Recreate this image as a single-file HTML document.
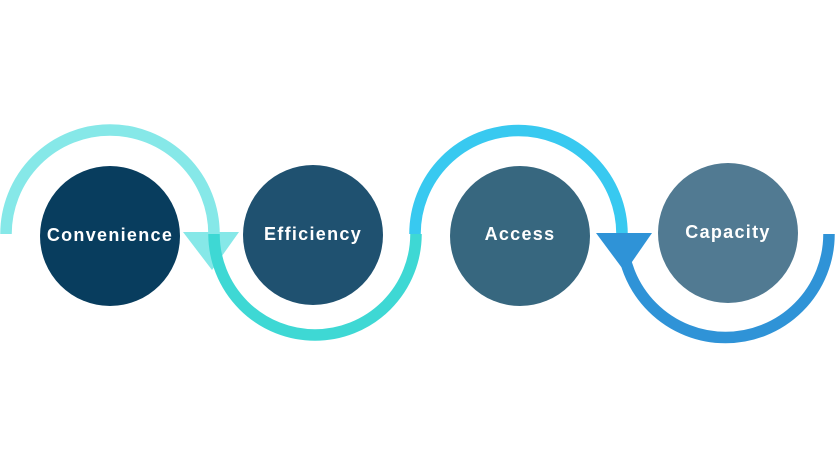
<!DOCTYPE html>
<html><head><style>
html,body{margin:0;padding:0;background:#fff;width:836px;height:466px;overflow:hidden}
svg{display:block}
text{font-family:"Liberation Sans",sans-serif;font-weight:bold;font-size:18px;fill:#fff;letter-spacing:1.3px}
</style></head><body>
<svg width="836" height="466" viewBox="0 0 836 466">
<circle cx="110" cy="236" r="70" fill="#083d5e"/>
<circle cx="313" cy="235" r="70" fill="#1f5170"/>
<circle cx="520" cy="236" r="70" fill="#37677f"/>
<circle cx="728" cy="233" r="70" fill="#517a92"/>
<path d="M6 234 A104 104 0 0 1 214 234" fill="none" stroke="#86e8e8" stroke-width="11.5"/>
<polygon points="183,232 239,232 212,270" fill="#86e8e8"/>
<path d="M214 234 A101 101 0 0 0 416 234" fill="none" stroke="#3ed8d4" stroke-width="11.5"/>
<path d="M415 234 A103.5 103.5 0 0 1 622 234" fill="none" stroke="#38c9f0" stroke-width="11.5"/>
<path d="M622 234 A103.5 103.5 0 0 0 829 234" fill="none" stroke="#2f93d7" stroke-width="11.5"/>
<polygon points="596,233 652,233 625,272" fill="#2f93d7"/>
<text x="110" y="241" text-anchor="middle">Convenience</text>
<text x="313" y="240" text-anchor="middle">Efficiency</text>
<text x="520" y="240" text-anchor="middle">Access</text>
<text x="728" y="238" text-anchor="middle">Capacity</text>
</svg>
</body></html>
